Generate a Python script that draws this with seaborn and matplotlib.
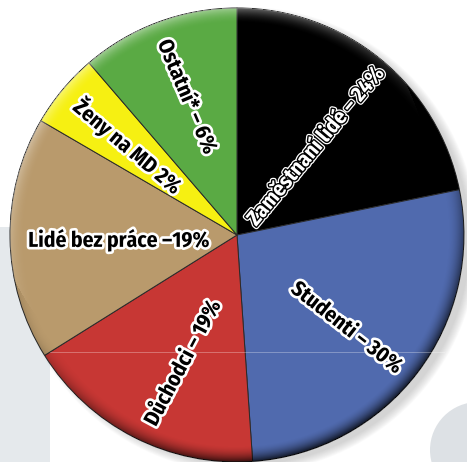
import numpy as np
import matplotlib
matplotlib.use('Agg')
import matplotlib.pyplot as plt
import matplotlib.patheffects as pe
from matplotlib.patches import Circle, FancyBboxPatch
import seaborn as sns

# Slices as drawn in the picture (clockwise from the top) and their printed labels
groups = ['Zaměstnaní lidé', 'Studenti', 'Důchodci', 'Lidé bez práce', 'Ženy na MD', 'Ostatní*']
printed_pct = [24, 30, 19, 19, 2, 6]
drawn_share = [21.8, 27.1, 17.2, 17.3, 5.3, 11.3]
labels = ['Zaměstnaní lidé – 24%', 'Studenti – 30%', 'Důchodci – 19%',
          'Lidé bez práce –19%', 'Ženy na MD 2%', 'Ostatní* – 6%']
colors = ['#000000', '#506aae', '#c73734', '#b99a6c', '#f6f012', '#5aaa44']

sns.set_theme(style='white')
plt.rcParams['font.family'] = ['Fira Sans Condensed', 'DejaVu Sans']

W, H = 467, 462
fig = plt.figure(figsize=(W / 100, H / 100), dpi=100)
ax = fig.add_axes([0, 0, 1, 1])
ax.set_xlim(0, W)
ax.set_ylim(0, H)
ax.axis('off')

cx, cy, R = 237, 227, 227

# light background shapes
ax.add_patch(FancyBboxPatch((-40, -40), 90, 275, boxstyle='round,pad=0,rounding_size=40',
                            fc='#e5e9ec', ec='none', zorder=0))
ax.add_patch(Circle((478, 12), 48, fc='#dde1e5', ec='none', zorder=0))

# soft drop shadow, mostly to the right
for i in range(10):
    ax.add_patch(Circle((cx + 8, cy - 5), R + 6 - i * 0.9, fc='#8a8a8a', ec='none',
                        alpha=0.04, zorder=1))

wedges, _ = ax.pie(drawn_share, colors=colors, startangle=90, counterclock=False,
                   center=(cx, cy), radius=R,
                   wedgeprops=dict(edgecolor='#2a2a2a', linewidth=0.7))
for w in wedges:
    w.set_zorder(2)

# rim bevel: darker towards lower right, lighter at the top
yy, xx = np.mgrid[0:H, 0:W] + 0.5
dx, dy = xx - cx, yy - cy
d = np.hypot(dx, dy)
t = np.clip((d - (R - 16)) / 16, 0, 1)
nx, ny = dx / np.maximum(d, 1), dy / np.maximum(d, 1)
light = nx * -0.45 + ny * 0.89
inside = d <= R
rgba = np.zeros((H, W, 4))
dark = np.clip(-light, 0, 1) * t ** 1.6 * 0.7 + t ** 3 * 0.12
hi = np.clip(light, 0, 1) * t ** 2 * 0.45
rgba[..., :3] = np.where((hi > dark)[..., None], 1.0, 0.0)
rgba[..., 3] = np.where(inside, np.maximum(dark, hi), 0)
ax.imshow(rgba, extent=(0, W, 0, H), origin='lower', zorder=3, interpolation='bilinear')
ax.set_xlim(0, W)
ax.set_ylim(0, H)

# faint decorative lines
ax.plot([cx - R + 40, cx + R - 20], [110, 110], color='white', lw=0.6, alpha=0.35, zorder=3)

black_fx = [pe.withStroke(linewidth=3.8, foreground='white')]
white_fx = [pe.Stroke(linewidth=3.8, foreground='white'),
            pe.Stroke(linewidth=2.0, foreground='black'), pe.Normal()]

label_pos = [(316, 316, 50), (347, 134, -38), (183, 99, 62),
             (119, 222, 0), (128, 316, -40), (187, 365, -67)]
for lab, (x, y, rot), col in zip(labels, label_pos, colors):
    on_black = col == '#000000'
    ax.text(x, y, lab, rotation=rot, rotation_mode='anchor', ha='center', va='center',
            fontsize=15.5, fontweight='bold', color='white' if on_black else 'black',
            path_effects=white_fx if on_black else black_fx, zorder=5)

fig.savefig('out.png', dpi=100)
